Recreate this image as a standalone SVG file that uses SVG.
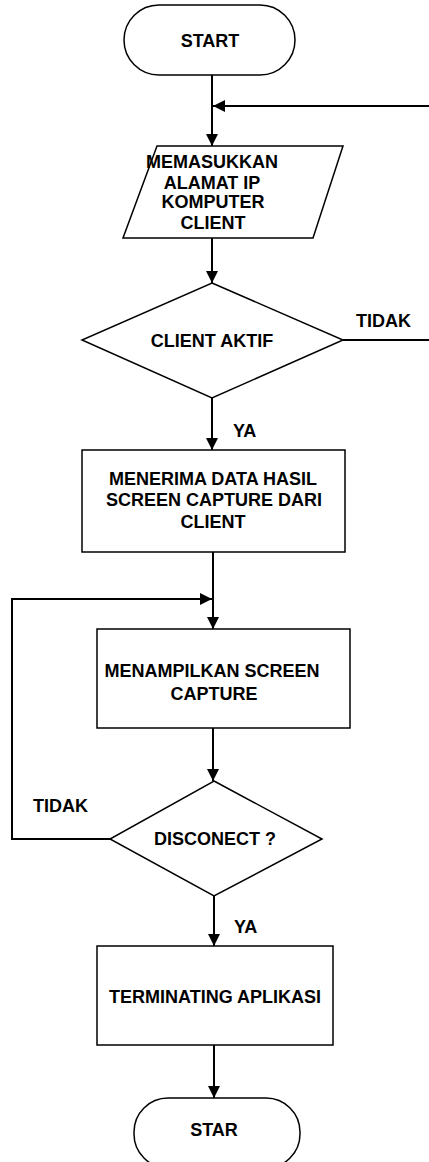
<svg xmlns="http://www.w3.org/2000/svg" width="429" height="1162" viewBox="0 0 429 1162">
  <style>
    .shape { fill: #ffffff; stroke: #000000; stroke-width: 1.5; }
    .wire { fill: none; stroke: #000000; stroke-width: 2; }
    .label { font-family: "Liberation Sans", Arial, sans-serif; font-weight: bold; font-size: 18px; fill: #000000; }
    .c { text-anchor: middle; }
  </style>
  <defs>
    <marker id="arrow" viewBox="0 0 12 12" refX="12" refY="6" markerWidth="12" markerHeight="12" markerUnits="userSpaceOnUse" orient="auto">
      <path d="M0,0 L12,6 L0,12 Z" fill="#000000"/>
    </marker>
  </defs>
  <rect width="429" height="1162" fill="#ffffff"/>

  <!-- connectors -->
  <g id="connectors" class="wire">
    <line x1="212" y1="75" x2="212" y2="146" marker-end="url(#arrow)"/>
    <line x1="429" y1="106" x2="213" y2="106" marker-end="url(#arrow)"/>
    <line x1="212" y1="238" x2="212" y2="283" marker-end="url(#arrow)"/>
    <line x1="343" y1="340" x2="429" y2="340"/>
    <line x1="212" y1="398" x2="212" y2="450" marker-end="url(#arrow)"/>
    <line x1="213" y1="552" x2="213" y2="629" marker-end="url(#arrow)"/>
    <polyline points="110,839 12,839 12,599 212,599" marker-end="url(#arrow)"/>
    <line x1="213" y1="728" x2="213" y2="781" marker-end="url(#arrow)"/>
    <line x1="214" y1="896" x2="214" y2="946" marker-end="url(#arrow)"/>
    <line x1="214" y1="1045" x2="214" y2="1098" marker-end="url(#arrow)"/>
  </g>

  <!-- branch labels -->
  <g id="edge-labels" class="label">
    <text x="356" y="327">TIDAK</text>
    <text x="233" y="437">YA</text>
    <text x="33" y="812">TIDAK</text>
    <text x="234" y="933">YA</text>
  </g>

  <g id="start">
    <rect class="shape" x="124" y="5" width="171" height="70" rx="35" ry="35"/>
    <text class="label c" x="210" y="47">START</text>
  </g>

  <g id="input-ip">
    <polygon class="shape" points="157,146 343,146 313,238 123,238"/>
    <text class="label c" x="212" y="168">MEMASUKKAN</text>
    <text class="label c" x="212" y="189">ALAMAT IP</text>
    <text class="label c" x="213" y="208">KOMPUTER</text>
    <text class="label c" x="213" y="229">CLIENT</text>
  </g>

  <g id="client-active">
    <polygon class="shape" points="212,283 343,340 212,398 82,340"/>
    <text class="label c" x="212" y="347">CLIENT AKTIF</text>
  </g>

  <g id="receive-data">
    <rect class="shape" x="82" y="450" width="263" height="102"/>
    <text class="label c" x="213" y="485">MENERIMA DATA HASIL</text>
    <text class="label c" x="214" y="506">SCREEN CAPTURE DARI</text>
    <text class="label c" x="213" y="528">CLIENT</text>
  </g>

  <g id="show-capture">
    <rect class="shape" x="97" y="629" width="253" height="99"/>
    <text class="label c" x="212" y="677">MENAMPILKAN SCREEN</text>
    <text class="label c" x="214" y="700">CAPTURE</text>
  </g>

  <g id="disconnect">
    <polygon class="shape" points="214,781 322,839 214,896 110,839"/>
    <text class="label c" x="215" y="845">DISCONECT ?</text>
  </g>

  <g id="terminate">
    <rect class="shape" x="97" y="946" width="236" height="99"/>
    <text class="label c" x="215" y="1003">TERMINATING APLIKASI</text>
  </g>

  <g id="end">
    <rect class="shape" x="134" y="1098" width="166" height="70" rx="34" ry="34"/>
    <text class="label c" x="214" y="1136">STAR</text>
  </g>
</svg>
